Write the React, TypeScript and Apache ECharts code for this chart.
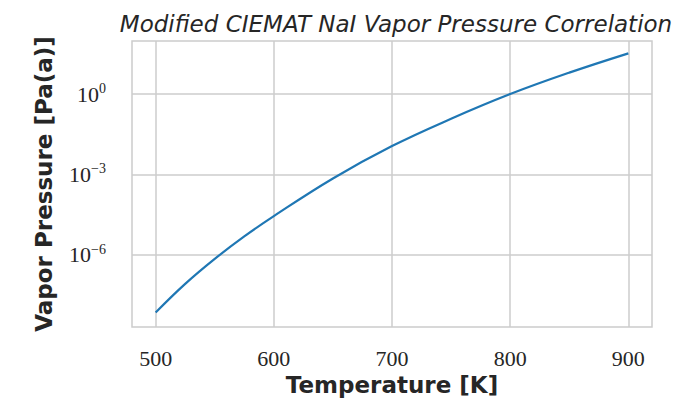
import React, { useEffect, useRef } from "react";
import * as echarts from "echarts";

const temperatures = [500, 525, 550, 575, 600, 650, 700, 750, 800, 850, 900];
const pressures = [7.1e-9, 8.3e-8, 7.1e-7, 4.9e-6, 2.8e-5, 7.1e-4, 1.15e-2, 0.12, 1.0, 6.3, 33.1];
const xTicks = [500, 600, 700, 800, 900];
const yTicks = [1e-6, 1e-3, 1];
const yTickExps = ["−6", "−3", "0"];

export default function App() {
  const ref = useRef<HTMLDivElement>(null);
  useEffect(() => {
    if (!ref.current) return;
    const chart = echarts.init(ref.current, null, { renderer: "svg" });
    chart.setOption({
      animation: false,
      backgroundColor: "#ffffff",
      title: {
        text: "Modified CIEMAT NaI Vapor Pressure Correlation",
        left: 391,
        top: 7,
        textAlign: "center",
        textStyle: {
          fontFamily: "DejaVu Sans",
          fontStyle: "italic",
          fontWeight: "normal",
          fontSize: 23,
          color: "#262626",
        },
      },
      grid: {
        left: 132,
        right: 43,
        top: 41,
        bottom: 84,
        show: true,
        borderColor: "#cccccc",
        borderWidth: 1.5,
        backgroundColor: "#ffffff",
      },
      xAxis: {
        type: "value",
        min: 480,
        max: 920,
        name: "Temperature [K]",
        nameLocation: "middle",
        nameGap: 46,
        nameTextStyle: {
          fontFamily: "DejaVu Sans",
          fontWeight: "bold",
          fontSize: 23,
          color: "#262626",
        },
        axisLine: { show: false },
        axisTick: { show: false, customValues: xTicks },
        axisLabel: {
          customValues: xTicks,
          margin: 20,
          fontFamily: "Liberation Serif",
          fontSize: 22,
          color: "#262626",
        },
        splitLine: { show: true, lineStyle: { color: "#cccccc", width: 1.5 } },
      },
      yAxis: {
        type: "log",
        logBase: 10,
        min: Math.pow(10, -8.69),
        max: Math.pow(10, 1.98),
        name: "Vapor Pressure [Pa(a)]",
        nameLocation: "middle",
        nameGap: 77,
        nameTextStyle: {
          fontFamily: "DejaVu Sans",
          fontWeight: "bold",
          fontSize: 23,
          color: "#262626",
        },
        axisLine: { show: false },
        axisTick: { show: false, customValues: yTicks },
        axisLabel: {
          customValues: yTicks,
          margin: 26,
          formatter: (v: number) => {
            const e = Math.round(Math.log10(v));
            const idx = yTicks.findIndex((t) => Math.abs(Math.log10(t) - e) < 1e-6);
            const s = idx >= 0 ? yTickExps[idx] : String(e).replace("-", "−");
            return "{b|10}{s|" + s + "}";
          },
          rich: {
            b: { fontFamily: "Liberation Serif", fontSize: 22, color: "#262626" },
            s: {
              fontFamily: "Liberation Serif",
              fontSize: 14,
              color: "#262626",
              verticalAlign: "bottom",
              padding: [0, 0, 11, 0],
            },
          },
        },
        splitLine: { show: true, lineStyle: { color: "#cccccc", width: 1.5 } },
      },
      series: [
        {
          type: "line",
          data: temperatures.map((t, i) => [t, pressures[i]]),
          smooth: 0.4,
          showSymbol: false,
          lineStyle: { color: "#1f77b4", width: 2.2 },
        },
      ],
    });
    return () => chart.dispose();
  }, []);
  return (
    <div
      ref={ref}
      style={{ position: "fixed", left: 0, top: 0, width: 695, height: 411 }}
    />
  );
}
